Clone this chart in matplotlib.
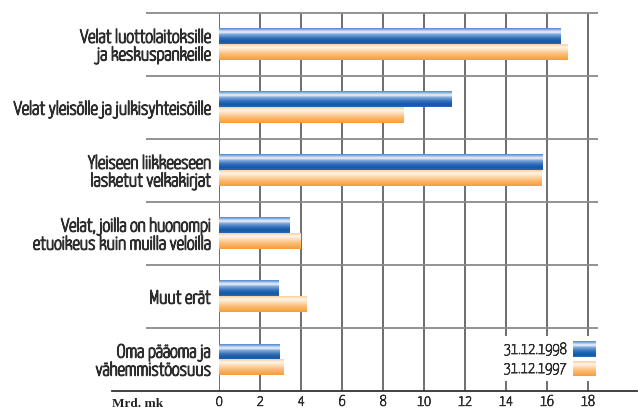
import numpy as np
import matplotlib
matplotlib.use('Agg')
import matplotlib.pyplot as plt
import matplotlib.patheffects as pe
from matplotlib.colors import LinearSegmentedColormap
from matplotlib.patches import Rectangle

# Data (Mrd. mk)
categories = ['Velat luottolaitoksille\nja keskuspankeille',
              'Velat yleisölle ja julkisyhteisöille',
              'Yleiseen liikkeeseen\nlasketut velkakirjat',
              'Velat, joilla on huonompi\netuoikeus kuin muilla veloilla',
              'Muut erät',
              'Oma pääoma ja\nvähemmistöosuus']
v1998 = [16.65, 11.35, 15.8, 3.45, 2.9, 2.95]
v1997 = [17.0, 9.0, 15.75, 4.0, 4.25, 3.15]
series_labels = ['31.12.1998', '31.12.1997']
xticks = list(range(0, 19, 2))

label_font = ['Yanone Kaffeesatz', 'PT Sans Narrow', 'DejaVu Sans']
serif_font = ['Liberation Serif', 'DejaVu Serif']
bold_lbl = [pe.withStroke(linewidth=1.0, foreground='#2e2e2e')]
bold_num = [pe.withStroke(linewidth=0.6, foreground='#2e2e2e')]

blue_cm = LinearSegmentedColormap.from_list('b', [
    (0.0, '#4f86cb'), (0.12, '#9dbde6'), (0.25, '#f2f6fc'), (0.4, '#7aa6dc'),
    (0.65, '#2e6db8'), (0.85, '#1058a8'), (1.0, '#2a68b3')])
orange_cm = LinearSegmentedColormap.from_list('o', [
    (0.0, '#fbcf9c'), (0.2, '#fff6ec'), (0.35, '#fde2c2'),
    (0.65, '#fbbb72'), (1.0, '#f89c38')])
grad = np.linspace(0, 1, 64).reshape(-1, 1)

fig = plt.figure(figsize=(6.38, 4.10), dpi=100)
ax = fig.add_axes([219.3 / 638, 18 / 410, (598.2 - 219.3) / 638, 378 / 410])
ax.set_xlim(0, 18.5)
ax.set_ylim(0, 6)

n = len(categories)
centers = np.arange(n)[::-1] + 0.5
h = 0.24

bars_b = ax.barh(centers + h / 2, v1998, height=h, color='none', zorder=3)
bars_o = ax.barh(centers - h / 2, v1997, height=h, color='none', zorder=3)
for bars, cm in [(bars_b, blue_cm), (bars_o, orange_cm)]:
    for b in bars:
        x0, y0 = b.get_x(), b.get_y()
        ax.imshow(grad, cmap=cm, aspect='auto', origin='upper', zorder=3,
                  extent=(x0, x0 + b.get_width(), y0, y0 + b.get_height()),
                  interpolation='bilinear')

# grid
ax.vlines(xticks, 0, 6, color='#555555', lw=1.2, zorder=1)
ax.hlines(range(1, 7), -3.58, 18.5, color='#8a8a8a', lw=1.3, zorder=1, clip_on=False)
ax.plot([-5.24, 20.4], [0, 0], color='#333333', lw=1.3, clip_on=False, zorder=2)

for s in ax.spines.values():
    s.set_visible(False)
ax.set_yticks(centers)
ax.set_yticklabels(categories, family=label_font, fontsize=13.5,
                   color='#2e2e2e', linespacing=1.0, path_effects=bold_lbl)
ax.set_xticks(xticks)
ax.set_xticklabels([str(t) for t in xticks], family=label_font, fontsize=11,
                   color='#2e2e2e', path_effects=bold_num)
ax.tick_params(length=0)
ax.tick_params(axis='y', pad=6)
ax.tick_params(axis='x', pad=2)
ax.text(-5.24, -0.19, 'Mrd. mk', family=serif_font, fontsize=9.5, fontweight='bold',
        color='#222222', ha='left', va='center')

# legend
ax.add_patch(Rectangle((13.7, 0.16), 4.9, 0.71, facecolor='white', edgecolor='none',
                       zorder=4, clip_on=False))
leg_y = [(0.54, 0.78), (0.238, 0.476)]
for lab, cm, (y0, y1) in zip(series_labels, [blue_cm, orange_cm], leg_y):
    ax.imshow(grad, cmap=cm, aspect='auto', origin='upper', zorder=5,
              extent=(17.27, 18.39, y0, y1), interpolation='bilinear')
    ax.text(16.95, (y0 + y1) / 2, lab, family=label_font, fontsize=11.5,
            color='#2e2e2e', ha='right', va='center', zorder=5, path_effects=bold_num)
ax.set_xlim(0, 18.5)
ax.set_ylim(0, 6)

fig.savefig('out.png', dpi=100)
